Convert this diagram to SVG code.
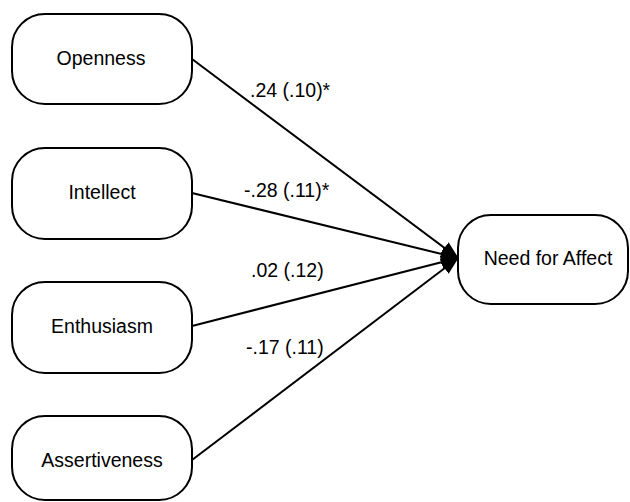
<svg xmlns="http://www.w3.org/2000/svg" width="630" height="502" viewBox="0 0 630 502">
<defs>
<marker id="arr" markerUnits="userSpaceOnUse" markerWidth="18" markerHeight="14" viewBox="0 0 18 14" refX="17" refY="7" orient="auto">
<path d="M0,0 L18,7 L0,14 Z" fill="#000"/>
</marker>
<style>
.node rect{fill:#fff;stroke:#000;stroke-width:2}
.node text{font-family:"Liberation Sans",Arial,sans-serif;font-size:19.5px;fill:#000;text-anchor:middle}
.edge{stroke:#000;stroke-width:2;fill:none;marker-end:url(#arr)}
.lbl{font-family:"Liberation Sans",Arial,sans-serif;font-size:19.5px;fill:#000}
</style>
</defs>
<rect width="630" height="502" fill="#fff"/>
<g id="connectors">
<line class="edge" x1="192" y1="59" x2="458" y2="258"/>
<line class="edge" x1="192" y1="193" x2="458" y2="258"/>
<line class="edge" x1="192" y1="326" x2="458" y2="258"/>
<line class="edge" x1="192" y1="460" x2="458" y2="258"/>
<text class="lbl" x="250" y="97">.24 (.10)*</text>
<text class="lbl" x="244" y="197">-.28 (.11)*</text>
<text class="lbl" x="251" y="277">.02 (.12)</text>
<text class="lbl" x="246" y="354">-.17 (.11)</text>
</g>
<g id="openness" class="node"><rect x="12" y="14" width="180" height="90" rx="33"/><text x="101" y="65">Openness</text></g>
<g id="intellect" class="node"><rect x="12" y="148" width="180" height="91" rx="33"/><text x="102" y="199">Intellect</text></g>
<g id="enthusiasm" class="node"><rect x="12" y="282" width="180" height="91" rx="33"/><text x="102" y="333">Enthusiasm</text></g>
<g id="assertiveness" class="node"><rect x="12" y="416" width="180" height="84" rx="33"/><text x="102" y="467">Assertiveness</text></g>
<g id="need" class="node"><rect x="458" y="215" width="170" height="89" rx="33"/><text x="548" y="265">Need for Affect</text></g>
</svg>
